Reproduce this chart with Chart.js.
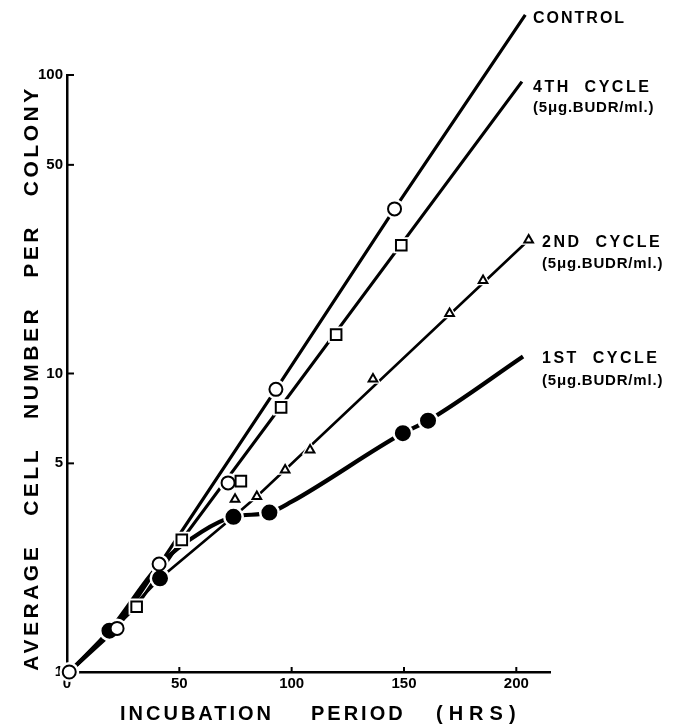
<!DOCTYPE html>
<html>
<head>
<meta charset="utf-8">
<script src="https://cdn.jsdelivr.net/npm/chart.js@4.4.1/dist/chart.umd.min.js"></script>
<style>
  html, body { margin: 0; padding: 0; background: #fff; }
  canvas { display: block; }
</style>
</head>
<body>
<canvas id="growthChart" width="688" height="724"></canvas>
<script>
// observed points: incubation period (hrs) and average cells per colony
const controlHrs = [1, 22.3, 41, 71.7, 93, 145.8];
const controlCells = [1, 1.40, 2.30, 4.30, 8.85, 35.6];
const cycle4Hrs = [31, 51.1, 77.4, 95.3, 119.8, 148.8];
const cycle4Cells = [1.655, 2.77, 4.36, 7.70, 13.5, 26.9];
const cycle2Hrs = [74.8, 84.5, 97.1, 108.2, 136.2, 170.3, 185.2, 205.5];
const cycle2Cells = [3.79, 3.87, 4.75, 5.54, 9.58, 15.9, 20.5, 28.0];
const cycle1Hrs = [18.9, 41.4, 74.1, 90.1, 149.5, 160.7];
const cycle1Cells = [1.375, 2.06, 3.31, 3.42, 6.31, 6.95];

// hand drawn curves through the points
const controlCurveHrs = [1, 22.3, 93, 145.8, 204];
const controlCurveCells = [1, 1.40, 8.85, 35.6, 159];
const cycle4CurveHrs = [1, 31, 51.1, 202.5];
const cycle4CurveCells = [1, 1.66, 2.77, 95];
const cycle2CurveHrs = [1, 18.9, 41.4, 74.1, 84.5, 205.5];
const cycle2CurveCells = [1, 1.375, 2.06, 3.31, 3.87, 28.0];
const cycle1CurveHrs = [1, 18.9, 41, 60, 74.1, 90.1, 100, 149.5, 160.7, 203];
const cycle1CurveCells = [1, 1.375, 2.28, 2.95, 3.31, 3.42, 3.72, 6.31, 6.95, 11.4];

const xTicks = [0, 50, 100, 150, 200];
const yTicks = [1, 5, 10, 50, 100];

const seriesNames = ['CONTROL', '4TH  CYCLE', '2ND  CYCLE', '1ST  CYCLE'];
const doseText = '(5\u03bcg.BUDR/ml.)';

function pts(xs, ys) {
    return xs.map((x, i) => ({ x: x, y: ys[i] }));
}

function curve(xs, ys, width, smooth) {
    return {
        data: pts(xs, ys),
        borderColor: '#000',
        borderWidth: width,
        pointRadius: 0,
        fill: false,
        clip: false,
        cubicInterpolationMode: smooth ? 'monotone' : 'default',
        tension: 0,
        order: 3
    };
}

function markers(xs, ys, style, r, filled) {
    return {
        data: pts(xs, ys),
        showLine: false,
        pointStyle: style,
        pointRadius: r,
        pointBorderWidth: 2,
        pointBorderColor: '#000',
        pointBackgroundColor: filled ? '#000' : '#fff',
        clip: false,
        order: 0
    };
}

// white rim so the curves stop short of each marker
function halo(xs, ys, style, r) {
    return {
        data: pts(xs, ys),
        showLine: false,
        pointStyle: style,
        pointRadius: r + 2.5,
        pointBorderWidth: 2,
        pointBorderColor: '#fff',
        pointBackgroundColor: '#fff',
        clip: false,
        order: 1
    };
}

const font = '"Liberation Sans", Arial, sans-serif';

function spaced(ctx, text, x, y, spacing) {
    ctx.letterSpacing = spacing + 'px';
    ctx.fillText(text, x, y);
    ctx.letterSpacing = '0px';
}

const decorations = {
    id: 'decorations',
    afterDraw(chart) {
        const { ctx, scales: { x, y } } = chart;
        ctx.save();
        ctx.strokeStyle = '#000';
        ctx.lineWidth = 2;
        yTicks.slice(1).forEach(v => {
            const py = y.getPixelForValue(v);
            ctx.beginPath();
            ctx.moveTo(x.left, py);
            ctx.lineTo(x.left + 7, py);
            ctx.stroke();
        });
        xTicks.slice(1).forEach(v => {
            const px = x.getPixelForValue(v);
            ctx.beginPath();
            ctx.moveTo(px, y.bottom);
            ctx.lineTo(px, y.bottom - 5);
            ctx.stroke();
        });

        ctx.fillStyle = '#000';
        ctx.textBaseline = 'alphabetic';
        ctx.textAlign = 'left';

        // series labels at the line ends
        ctx.font = 'bold 16px ' + font;
        spaced(ctx, seriesNames[0], 533, 23, 2);
        spaced(ctx, seriesNames[1], 533, 92, 2.5);
        spaced(ctx, seriesNames[2], 542, 247, 2.5);
        spaced(ctx, seriesNames[3], 542, 363, 2.5);
        ctx.font = 'bold 15px ' + font;
        spaced(ctx, doseText, 533, 112, 0.8);
        spaced(ctx, doseText, 542, 268, 0.8);
        spaced(ctx, doseText, 542, 385, 0.8);

        // axis titles
        ctx.font = 'bold 20px ' + font;
        spaced(ctx, 'INCUBATION', 120, 720, 3);
        spaced(ctx, 'PERIOD', 311, 720, 3);
        spaced(ctx, '(HRS)', 436, 720, 6);

        ctx.font = 'bold 21px ' + font;
        ctx.translate(38, 378);
        ctx.rotate(-Math.PI / 2);
        ctx.textAlign = 'center';
        spaced(ctx, 'AVERAGE   CELL   NUMBER   PER   COLONY', 0, 0, 3.5);
        ctx.restore();
    }
};

new Chart(document.getElementById('growthChart'), {
    type: 'line',
    data: {
        datasets: [
            markers(controlHrs, controlCells, 'circle', 6.5, false),
            markers(cycle4Hrs, cycle4Cells, 'rect', 7.5, false),
            markers(cycle2Hrs, cycle2Cells, 'triangle', 5, false),
            markers(cycle1Hrs, cycle1Cells, 'circle', 7, true),
            halo(controlHrs, controlCells, 'circle', 6.5),
            halo(cycle4Hrs, cycle4Cells, 'rect', 7.5),
            halo(cycle2Hrs, cycle2Cells, 'triangle', 5),
            halo(cycle1Hrs, cycle1Cells, 'circle', 7),
            curve(controlCurveHrs, controlCurveCells, 3.2, false),
            curve(cycle4CurveHrs, cycle4CurveCells, 3.2, false),
            curve(cycle2CurveHrs, cycle2CurveCells, 2.6, false),
            curve(cycle1CurveHrs, cycle1CurveCells, 4.2, true)
        ]
    },
    options: {
        responsive: false,
        animation: false,
        layout: { padding: { top: 75, right: 138, bottom: 0, left: 0 } },
        plugins: {
            legend: { display: false },
            tooltip: { enabled: false }
        },
        scales: {
            x: {
                type: 'linear',
                min: 0,
                max: 215,
                afterBuildTicks: s => { s.ticks = xTicks.map(v => ({ value: v })); },
                afterFit: s => { s.height = 52; },
                grid: { drawOnChartArea: false, drawTicks: false },
                border: { display: true, color: '#000', width: 2.5 },
                ticks: {
                    color: '#000',
                    padding: 3,
                    maxRotation: 0,
                    font: { family: font, size: 15, weight: 'bold' }
                }
            },
            y: {
                type: 'logarithmic',
                min: 1,
                max: 100,
                afterBuildTicks: s => { s.ticks = yTicks.map(v => ({ value: v })); },
                afterFit: s => { s.width = 67; },
                grid: { drawOnChartArea: false, drawTicks: false },
                border: { display: true, color: '#000', width: 2.5 },
                ticks: {
                    color: '#000',
                    padding: 4,
                    callback: v => String(v),
                    font: { family: font, size: 15, weight: 'bold' }
                }
            }
        }
    },
    plugins: [decorations]
});
</script>
</body>
</html>
